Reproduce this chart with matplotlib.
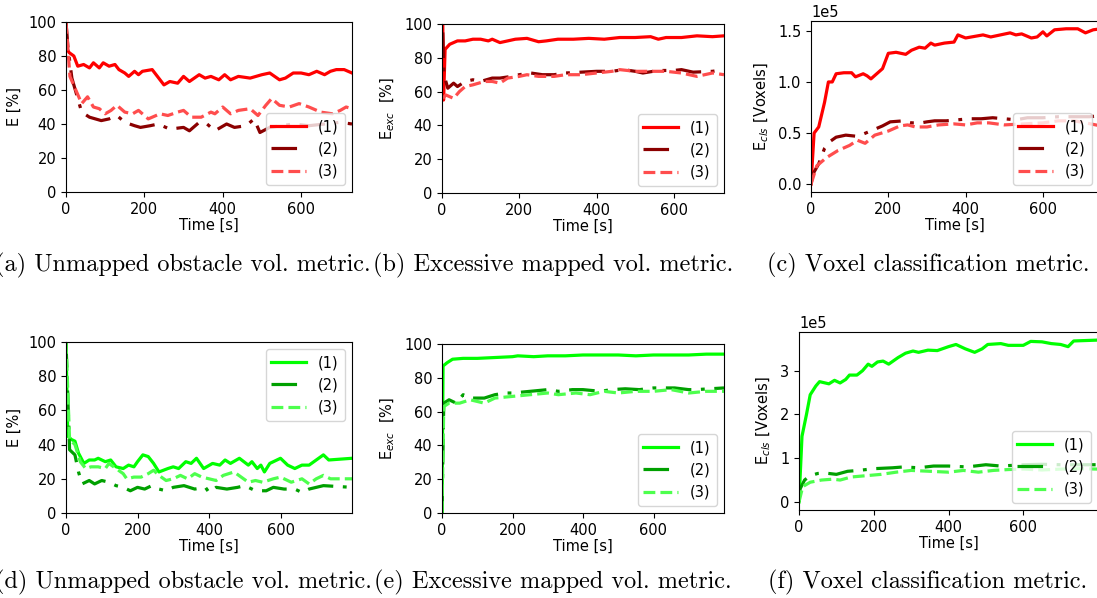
import matplotlib
matplotlib.use('Agg')
import matplotlib.pyplot as plt

# ---- data (time in s) ----
# (a) unmapped obstacle volume, red set
t_a1 = [0, 3, 8, 20, 30, 45, 60, 70, 85, 95, 110, 125, 135, 150, 160, 175, 185, 195, 220, 240, 250, 265, 285,
        300, 315, 340, 355, 370, 390, 405, 420, 440, 470, 500, 520, 545, 560, 580, 600, 620, 640, 660, 675,
        690, 710, 730]
e_a1 = [100, 84, 82, 80, 74, 75, 73, 76, 73, 76, 74, 75, 72, 70, 68, 71, 69, 71, 72, 66, 63, 65, 64,
        68, 65, 69, 67, 68, 66, 69, 66, 68, 67, 69, 70, 66, 67, 70, 70, 69, 71, 69, 71,
        72, 72, 70]
t_a2 = [0, 5, 15, 40, 60, 75, 90, 110, 130, 150, 175, 190, 215, 235, 265, 300, 315, 340, 360, 380, 410, 430,
        460, 480, 495, 520, 550, 580, 620, 660, 700, 730]
e_a2 = [100, 85, 67, 47, 44, 43, 42, 43, 45, 41, 39, 38, 39, 40, 37, 38, 36, 41, 40, 36, 40, 38,
        39, 43, 35, 38, 39, 40, 39, 40, 41, 40]
t_a3 = [0, 10, 25, 40, 55, 70, 85, 100, 115, 130, 150, 170, 185, 210, 240, 260, 285, 300, 320, 345, 370, 380,
        400, 420, 440, 470, 490, 510, 525, 545, 570, 595, 620, 650, 680, 700, 715, 730]
e_a3 = [100, 68, 60, 52, 56, 50, 49, 46, 48, 51, 47, 46, 48, 43, 46, 45, 47, 48, 44, 44, 47, 46,
        50, 46, 48, 49, 45, 51, 55, 51, 50, 52, 50, 47, 46, 48, 50, 49]

# (b) excessive mapped volume, red set
t_b1 = [0, 2, 4, 8, 20, 40, 60, 80, 100, 120, 130, 150, 170, 190, 220, 250, 270, 300, 340, 380, 420, 460,
        500, 540, 560, 580, 620, 660, 700, 730]
e_b1 = [100, 100, 55, 85, 88, 90, 90, 91, 91, 90, 91, 89, 90, 91, 91.5, 89.5, 90, 91, 91, 91.5, 91, 92,
        92, 92.5, 91, 92, 92, 93, 92.5, 93]
t_b2 = [2, 5, 15, 30, 40, 60, 80, 100, 130, 150, 180, 200, 230, 260, 290, 320, 360, 400, 440, 470, 500, 520,
        560, 600, 620, 650, 700, 730]
e_b2 = [95, 70, 62, 65, 63, 66, 67, 66, 68, 68, 69, 70, 71, 70, 70, 71, 71.5, 72, 72, 73, 72, 71,
        72.5, 72.5, 73, 71.5, 72, 73]
t_b3 = [2, 10, 30, 45, 60, 80, 110, 130, 150, 170, 200, 220, 250, 290, 320, 360, 400, 440, 460, 500, 540,
        580, 620, 660, 700, 730]
e_b3 = [56, 58, 56, 60, 63, 64, 66, 66, 65, 68, 69, 70, 69, 69, 70, 70, 71, 72, 73, 72, 72,
        72, 71, 69, 71, 70]

# (c) voxel classification, red set
t_c1 = [0, 8, 20, 35, 45, 55, 65, 85, 105, 115, 135, 145, 155, 170, 185, 200, 220, 245, 260, 280, 295, 310,
        320, 345, 370, 380, 400, 430, 445, 465, 490, 515, 530, 545, 570, 585, 600, 610, 630, 660, 690, 710,
        730, 750]
e_c1 = [0, 0.50e5, 0.56e5, 0.80e5, 1.00e5, 1.00e5, 1.08e5, 1.09e5, 1.09e5, 1.05e5, 1.08e5, 1.06e5, 1.03e5,
        1.08e5, 1.13e5, 1.28e5, 1.29e5, 1.27e5, 1.31e5, 1.34e5, 1.33e5, 1.38e5, 1.36e5, 1.38e5, 1.39e5,
        1.46e5, 1.43e5, 1.45e5, 1.46e5, 1.44e5, 1.46e5, 1.48e5, 1.46e5, 1.47e5, 1.43e5, 1.44e5, 1.49e5,
        1.45e5, 1.51e5, 1.52e5, 1.52e5, 1.48e5, 1.51e5, 1.52e5]
t_c2 = [0, 5, 20, 35, 50, 65, 90, 115, 135, 160, 185, 205, 240, 260, 285, 300, 320, 350, 380, 410, 440, 470,
        500, 530, 560, 600, 640, 680, 720, 750]
e_c2 = [0, 0.10e5, 0.20e5, 0.35e5, 0.42e5, 0.46e5, 0.48e5, 0.47e5, 0.49e5, 0.53e5, 0.57e5, 0.61e5, 0.62e5,
        0.60e5, 0.60e5, 0.61e5, 0.62e5, 0.62e5, 0.63e5, 0.64e5, 0.64e5, 0.65e5, 0.64e5, 0.63e5, 0.65e5,
        0.65e5, 0.66e5, 0.66e5, 0.66e5, 0.67e5]
t_c3 = [0, 15, 40, 70, 100, 120, 140, 165, 200, 230, 250, 270, 300, 330, 370, 400, 430, 460, 500, 550, 600,
        640, 680, 710, 750]
e_c3 = [0, 0.18e5, 0.26e5, 0.33e5, 0.38e5, 0.43e5, 0.40e5, 0.48e5, 0.52e5, 0.57e5, 0.58e5, 0.56e5, 0.56e5,
        0.58e5, 0.59e5, 0.58e5, 0.60e5, 0.60e5, 0.58e5, 0.59e5, 0.60e5, 0.62e5, 0.62e5, 0.60e5, 0.57e5]

# (d) unmapped obstacle volume, green set
t_d1 = [0, 5, 15, 25, 35, 50, 65, 80, 90, 110, 125, 140, 160, 175, 190, 200, 215, 230, 245, 260, 285, 300,
        315, 335, 350, 365, 385, 410, 430, 445, 460, 485, 510, 520, 535, 545, 555, 570, 590, 600, 620, 640,
        660, 680, 700, 720, 735, 800]
e_d1 = [100, 45, 43, 42, 35, 29, 31, 31, 32, 30, 31, 27, 26, 28, 27, 30, 34, 33, 29, 24, 26, 27,
        26, 30, 29, 32, 26, 29, 28, 31, 29, 32, 28, 30, 26, 28, 24, 29, 31, 32, 28, 26,
        28, 28, 31, 34, 31, 32]
t_d2 = [0, 10, 25, 35, 45, 65, 80, 100, 120, 140, 160, 180, 200, 220, 240, 260, 280, 300, 330, 360, 390,
        400, 420, 450, 480, 500, 530, 560, 580, 610, 640, 660, 680, 720, 800]
e_d2 = [100, 37, 34, 24, 17, 19, 17, 19, 18, 16, 15, 13, 15, 14, 16, 14, 13, 15, 16, 14, 15,
        12, 15, 14, 15, 16, 13, 13, 15, 14, 14, 12, 14, 16, 15]
t_d3 = [0, 10, 25, 40, 55, 70, 90, 110, 120, 140, 160, 170, 190, 210, 230, 245, 260, 280, 300, 320, 340,
        360, 380, 400, 420, 440, 470, 490, 510, 530, 550, 580, 600, 630, 660, 680, 700, 720, 740, 800]
e_d3 = [100, 43, 40, 30, 26, 27, 27, 26, 29, 26, 23, 20, 21, 21, 23, 25, 22, 19, 20, 22, 20,
        23, 21, 20, 19, 22, 24, 21, 18, 19, 18, 20, 21, 18, 20, 17, 20, 22, 20, 20]

# (e) excessive mapped volume, green set
t_e1 = [0, 3, 15, 30, 60, 100, 150, 200, 215, 260, 300, 350, 400, 450, 500, 550, 600, 650, 700, 750, 800]
e_e1 = [0, 87, 89, 91, 91.5, 91.5, 92, 92.5, 93, 92.5, 93, 93, 93.5, 93.5, 93.5, 93, 93.5, 93.5, 93.5, 94, 94]
t_e2 = [0, 5, 20, 40, 60, 80, 100, 120, 150, 180, 200, 250, 300, 330, 370, 400, 450, 480, 520, 560, 600,
        660, 700, 720, 800]
e_e2 = [0, 65, 67, 65, 70, 68, 68, 68, 70, 71, 71, 72, 73, 72, 73, 73, 72, 73, 73.5, 73, 74,
        74, 73, 73, 74]
t_e3 = [0, 5, 20, 50, 80, 100, 120, 150, 200, 250, 300, 330, 380, 420, 460, 500, 550, 600, 650, 700, 750, 800]
e_e3 = [0, 63, 65, 65, 67, 66, 65, 68, 69, 70, 71, 70, 71, 70, 72, 71, 72, 72, 73, 71, 72, 72]

# (f) voxel classification, green set
t_f1 = [0, 8, 20, 30, 45, 55, 70, 80, 95, 110, 125, 135, 155, 170, 185, 195, 210, 225, 240, 265, 285, 305,
        320, 345, 370, 390, 400, 420, 445, 470, 490, 505, 540, 560, 600, 620, 650, 675, 700, 720, 735, 800]
e_f1 = [0, 1.50e5, 2.00e5, 2.45e5, 2.65e5, 2.75e5, 2.72e5, 2.70e5, 2.78e5, 2.72e5, 2.80e5, 2.90e5, 2.90e5,
        3.00e5, 3.15e5, 3.10e5, 3.20e5, 3.22e5, 3.15e5, 3.30e5, 3.40e5, 3.45e5, 3.42e5, 3.47e5, 3.46e5,
        3.52e5, 3.55e5, 3.60e5, 3.50e5, 3.42e5, 3.50e5, 3.60e5, 3.62e5, 3.58e5, 3.58e5, 3.67e5, 3.66e5,
        3.62e5, 3.60e5, 3.55e5, 3.68e5, 3.70e5]
t_f2 = [0, 3, 15, 30, 50, 70, 100, 130, 160, 200, 250, 280, 320, 360, 400, 450, 500, 540, 600, 650, 700, 800]
e_f2 = [0, 0.30e5, 0.50e5, 0.60e5, 0.65e5, 0.66e5, 0.63e5, 0.70e5, 0.72e5, 0.76e5, 0.78e5, 0.80e5, 0.78e5,
        0.82e5, 0.82e5, 0.80e5, 0.85e5, 0.82e5, 0.85e5, 0.86e5, 0.85e5, 0.85e5]
t_f3 = [0, 10, 30, 60, 90, 110, 140, 180, 220, 260, 300, 350, 400, 440, 480, 520, 560, 600, 650, 700, 750, 800]
e_f3 = [0, 0.35e5, 0.45e5, 0.50e5, 0.52e5, 0.50e5, 0.57e5, 0.60e5, 0.63e5, 0.68e5, 0.72e5, 0.70e5, 0.68e5,
        0.72e5, 0.68e5, 0.72e5, 0.74e5, 0.75e5, 0.73e5, 0.75e5, 0.76e5, 0.75e5]

labels = ['(1)', '(2)', '(3)']
red_colors = ['#ff0000', '#8b0000', '#ff4d4d']
green_colors = ['#00ff00', '#00a000', '#4dff4d']
styles = ['-', (0, (8, 3, 1.2, 3)), '--']

captions = ['(a) Unmapped obstacle vol. metric.', '(b) Excessive mapped vol. metric.',
            '(c) Voxel classification metric.', '(d) Unmapped obstacle vol. metric.',
            '(e) Excessive mapped vol. metric.', '(f) Voxel classification metric.']

W, H = 1097, 598
fig = plt.figure(figsize=(W / 100, H / 100), dpi=100)


def box(l, r, t, b):
    # pixel box -> figure fraction
    return [l / W, 1 - b / H, (r - l) / W, (b - t) / H]


def panel(rect, series, colors, ylabel, xmax, loc, sci=False, ylim=None):
    ax = fig.add_axes(box(*rect))
    for (t, e), c, ls, lab in zip(series, colors, styles, labels):
        ax.plot(t, e, color=c, ls=ls, lw=2.3, label=lab)
    ax.set_xlim(0, xmax)
    if ylim:
        ax.set_ylim(*ylim)
    ax.set_xticks([0, 200, 400, 600])
    ax.set_xlabel('Time [s]', fontsize=10.5, labelpad=1)
    ax.set_ylabel(ylabel, fontsize=10.5, labelpad=5)
    ax.tick_params(labelsize=10.5)
    if sci:
        ax.ticklabel_format(axis='y', style='sci', scilimits=(0, 0))
        ax.yaxis.get_offset_text().set_fontsize(10.5)
    ax.legend(loc=loc, fontsize=10.5, handlelength=2.4)
    return ax


panel((66, 352, 22, 192), [(t_a1, e_a1), (t_a2, e_a2), (t_a3, e_a3)], red_colors,
      'E [%]', 730, 'lower right', ylim=(0, 100))
panel((442, 724, 24, 193), [(t_b1, e_b1), (t_b2, e_b2), (t_b3, e_b3)], red_colors,
      r'E$_{exc}$  [%]', 730, 'lower right', ylim=(0, 100))
panel((811, 1099, 21, 192), [(t_c1, e_c1), (t_c2, e_c2), (t_c3, e_c3)], red_colors,
      r'E$_{cls}$ [Voxels]', 745, 'lower right', sci=True)
panel((66, 352, 342, 513), [(t_d1, e_d1), (t_d2, e_d2), (t_d3, e_d3)], green_colors,
      'E [%]', 800, 'upper right', ylim=(0, 100))
panel((442, 724, 344, 513), [(t_e1, e_e1), (t_e2, e_e2), (t_e3, e_e3)], green_colors,
      r'E$_{exc}$  [%]', 800, 'lower right', ylim=(0, 100))
panel((799, 1098, 332, 510), [(t_f1, e_f1), (t_f2, e_f2), (t_f3, e_f3)], green_colors,
      r'E$_{cls}$ [Voxels]', 800, 'lower right', sci=True)

# sub-figure captions
cap_x = [183, 553, 928]
cap_y = [265, 582]
for i, txt in enumerate(captions):
    fig.text(cap_x[i % 3] / W, 1 - cap_y[i // 3] / H, txt, family='cmr10', fontsize=17.5,
             ha='center', va='center')

fig.savefig('out.png', dpi=100)
